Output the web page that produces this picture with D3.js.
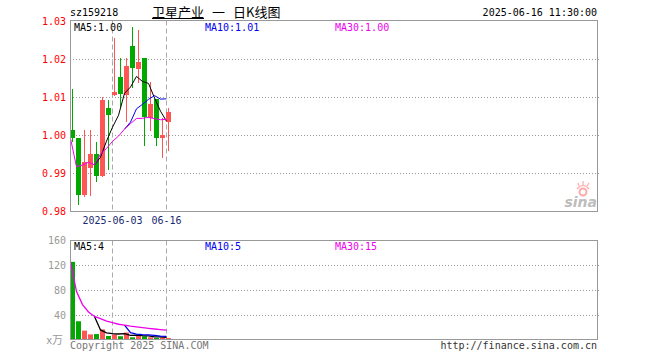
<!DOCTYPE html>
<html>
<head>
<meta charset="utf-8">
<script src="https://cdn.jsdelivr.net/npm/d3@7"></script>
<style>
  body { margin: 0; background: #fff; }
  svg { display: block; }
  text { font-family: "DejaVu Sans Mono", monospace; font-size: 10px; }
  .cjk { font-family: "Noto Sans CJK SC", sans-serif; }
</style>
</head>
<body>
<script>
(function(){

//chart data
var code = "sz159218";
var stamp = "2025-06-16 11:30:00";
var dates  = ["05-22","05-23","05-26","05-27","05-28","05-29","05-30","06-03","06-04","06-05","06-06","06-09","06-10","06-11","06-12","06-13","06-16"];
var opens  = [1.0012,0.9991,0.9842,0.9912,0.9951,0.9891,1.0072,1.0104,1.0153,1.0105,1.0235,1.0174,1.0203,1.0045,1.0094,0.9991,1.0035];
var highs  = [1.0122,0.9992,1.0012,1.0012,0.9982,1.0101,1.0092,1.0254,1.0203,1.0203,1.0284,1.0275,1.0203,1.0140,1.0094,1.0045,1.0072];
var lows   = [0.9982,0.9817,0.9838,0.9839,0.9877,0.9890,0.9909,1.0103,1.0074,1.0035,1.0123,1.0138,0.9971,1.0011,0.9971,0.9940,0.9959];
var closes = [0.9991,0.9842,0.9930,0.9951,0.9892,1.0093,1.0053,1.0114,1.0107,1.0182,1.0175,1.0193,1.0047,1.0082,0.9991,1.0000,1.0061];
var volumes = [125,30,15,9,9.5,17,6.4,9,6,12,4.3,7,6,4.3,3.2,4.3,3.2]; //in 万

var priceTicks = [0.98,0.99,1.00,1.01,1.02,1.03];
var volTicks = [40,80,120,160];
var dateTicks = ["06-03","06-16"];
var dateTickLabels = ["2025-06-03","06-16"];

var red = "#ff5555", green = "#00a800";
var maDefs = [{n:5, color:"#000"}, {n:10, color:"#0000ee"}, {n:30, color:"#ee00ee"}];

var width = 660, height = 360;

var svg = d3.select("body")
    .append("svg")
    .attr("width", width)
    .attr("height", height);

//scales: one slot is 6px wide, the panel has room for 88 days
var x = d3.scaleLinear().domain([0, 88]).range([70, 598]);
var y = d3.scaleLinear().domain([0.98, 1.03]).range([211, 21]);
var yv = d3.scaleLinear().domain([0, 160]).range([340, 240]);

//moving average, cumulative until there is enough data (only when n > data length)
function movingAvg(vals, n){
    var out = [];
    for (var i=0; i<vals.length; i++){
        if (n <= vals.length && i < n-1) { out.push(null); continue; }
        var s = 0, c = 0;
        for (var j=Math.max(0, i-n+1); j<=i; j++){ s += vals[j]; c++; }
        out.push(s/c);
    }
    return out;
}

//header
svg.append("text").attr("x", 70).attr("y", 16).text(code);
svg.append("text").attr("x", 597).attr("y", 16).attr("text-anchor", "end").text(stamp);
var title = svg.append("text").attr("class", "cjk").attr("y", 17).style("font-size", "13px");
title.append("tspan").attr("x", 152).text("卫星产业");
title.append("tspan").attr("x", 212).text("一");
title.append("tspan").attr("x", 233).text("日K线图");
svg.append("line").attr("x1", 152).attr("x2", 204).attr("y1", 18.5).attr("y2", 18.5)
    .attr("stroke", "#000");

function drawPanel(top, bottom, yScale, ticks, tickColor, fmt){
    //horizontal dotted grid
    svg.selectAll(null)
        .data(ticks.filter(function(t){ return yScale(t) > top + 2 && yScale(t) < bottom - 2; }))
        .enter().append("line")
        .attr("x1", 70).attr("x2", 600)
        .attr("y1", function(d){ return Math.round(yScale(d)) + 0.5; })
        .attr("y2", function(d){ return Math.round(yScale(d)) + 0.5; })
        .attr("stroke", "#999").attr("stroke-dasharray", "1,2");

    //vertical dashed date lines
    svg.selectAll(null)
        .data(dateTicks)
        .enter().append("line")
        .attr("x1", function(d){ return x(dates.indexOf(d)) + 0.5; })
        .attr("x2", function(d){ return x(dates.indexOf(d)) + 0.5; })
        .attr("y1", top).attr("y2", bottom)
        .attr("stroke", "#aaa").attr("stroke-dasharray", "5,3");

    //axis labels
    svg.selectAll(null)
        .data(ticks)
        .enter().append("text")
        .attr("x", 66)
        .attr("y", function(d){ return yScale(d) + 3.5; })
        .attr("text-anchor", "end")
        .attr("fill", tickColor)
        .text(fmt);
}

drawPanel(20.5, 211.5, y, priceTicks, "#f00", function(d){ return d.toFixed(2); });
drawPanel(240.5, 339.5, yv, volTicks, "#999", function(d){ return d; });

svg.append("text").attr("class", "cjk").attr("x", 63).attr("y", 344)
    .attr("text-anchor", "end").attr("fill", "#999").style("font-size", "11px").text("x万");

//candles
var idx = d3.range(dates.length);
var candles = svg.selectAll(".candle")
    .data(idx)
    .enter().append("g")
    .attr("class", "candle")
    .attr("fill", function(i){ return closes[i] >= opens[i] ? red : green; });

candles.append("rect")
    .attr("x", function(i){ return x(i) + 2; })
    .attr("width", 1)
    .attr("y", function(i){ return Math.round(y(highs[i])); })
    .attr("height", function(i){ return Math.max(1, Math.round(y(lows[i])) - Math.round(y(highs[i]))); });

candles.append("rect")
    .attr("x", function(i){ return x(i); })
    .attr("width", 5)
    .attr("y", function(i){ return Math.round(y(Math.max(opens[i], closes[i]))); })
    .attr("height", function(i){
        return Math.max(1, Math.round(y(Math.min(opens[i], closes[i]))) - Math.round(y(Math.max(opens[i], closes[i]))));
    });

//volume bars
svg.selectAll(".vol")
    .data(idx)
    .enter().append("rect")
    .attr("class", "vol")
    .attr("x", function(i){ return x(i); })
    .attr("width", 5)
    .attr("y", function(i){ return yv(volumes[i]); })
    .attr("height", function(i){ return yv(0) - yv(volumes[i]); })
    .attr("fill", function(i){ return closes[i] >= opens[i] ? red : green; });

//moving average lines and labels
maDefs.forEach(function(m, k){
    var pm = movingAvg(closes, m.n);
    var vm = movingAvg(volumes, m.n);

    var pLine = d3.line()
        .defined(function(d){ return d != null; })
        .x(function(d, i){ return x(i) + 0.5; })
        .y(function(d){ return y(d); });
    var vLine = d3.line()
        .defined(function(d){ return d != null; })
        .x(function(d, i){ return x(i) + 0.5; })
        .y(function(d){ return yv(d); });

    svg.append("path").attr("d", pLine(pm))
        .attr("fill", "none").attr("stroke", m.color).attr("stroke-width", 1);
    svg.append("path").attr("d", vLine(vm))
        .attr("fill", "none").attr("stroke", m.color).attr("stroke-width", 1.3);

    var lx = [74, 205, 335][k];
    svg.append("text").attr("x", lx).attr("y", 31).attr("fill", m.color)
        .text("MA" + m.n + ":" + pm[pm.length-1].toFixed(2));
    svg.append("text").attr("x", lx).attr("y", 250).attr("fill", m.color)
        .text("MA" + m.n + ":" + Math.floor(vm[vm.length-1]));
});

//panel frames
[[20.5, 211.5], [240.5, 339.5]].forEach(function(b){
    svg.append("rect")
        .attr("x", 70.5).attr("y", b[0])
        .attr("width", 527).attr("height", b[1] - b[0])
        .attr("fill", "none").attr("stroke", "#999");
});

//date labels under the price panel
svg.selectAll(".dlab")
    .data(dateTicks)
    .enter().append("text")
    .attr("class", "dlab")
    .attr("x", function(d){ return x(dates.indexOf(d)) + 0.5; })
    .attr("y", 224)
    .attr("text-anchor", "middle")
    .attr("fill", "#1a2a70")
    .text(function(d, i){ return dateTickLabels[i]; });

//sina watermark
var logo = svg.append("g").attr("opacity", 0.55);
logo.append("circle").attr("cx", 583).attr("cy", 192).attr("r", 3.5)
    .attr("fill", "none").attr("stroke", "#f66").attr("stroke-width", 2);
logo.append("path").attr("d", "M577,189 Q583,182 589,189 M579,186 L578,183 M583,185 L583,181 M587,186 L589,183")
    .attr("fill", "none").attr("stroke", "#f66").attr("stroke-width", 1.2);
logo.append("text").attr("x", 597).attr("y", 207).attr("text-anchor", "end")
    .style("font-family", "DejaVu Sans").style("font-size", "14px")
    .style("font-style", "italic").style("font-weight", "bold")
    .attr("fill", "#888").text("sina");

//footer
svg.append("text").attr("x", 70).attr("y", 349).attr("fill", "#777").text("Copyright 2025 SINA.COM");
svg.append("text").attr("x", 597).attr("y", 349).attr("text-anchor", "end").attr("fill", "#333")
    .text("http://finance.sina.com.cn");

})();
</script>
</body>
</html>
